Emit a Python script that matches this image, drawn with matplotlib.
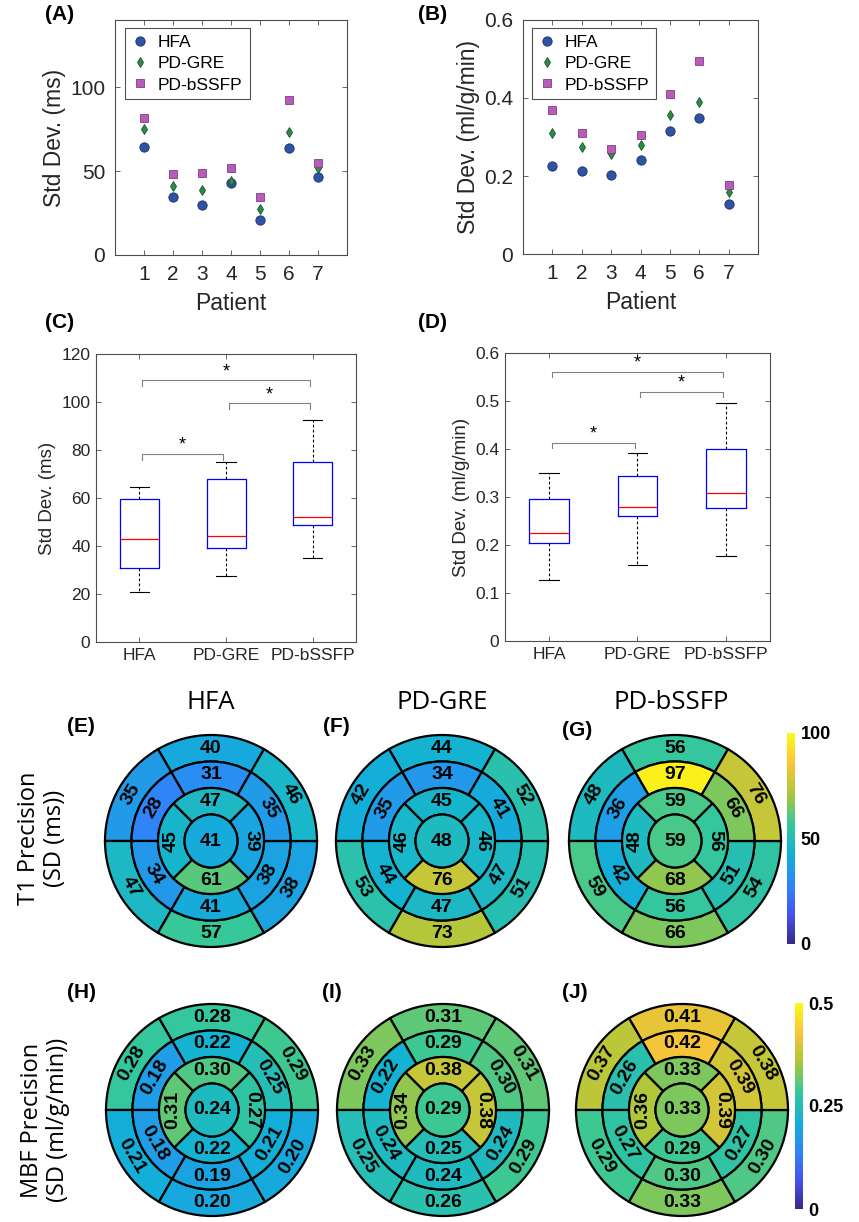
import numpy as np
import matplotlib
matplotlib.use("Agg")
import matplotlib.pyplot as plt
from matplotlib.patches import Wedge, Circle
from matplotlib.colors import LinearSegmentedColormap, Normalize
from matplotlib.cm import ScalarMappable

W, H = 859, 1222
plt.rcParams["font.family"] = ["Liberation Sans", "DejaVu Sans"]

# ---- data ----
methods = ["HFA", "PD-GRE", "PD-bSSFP"]
patients = [1, 2, 3, 4, 5, 6, 7]

# per-patient std dev, T1 (ms)
t1_hfa = [64.4, 34.4, 29.6, 42.9, 20.9, 64.0, 46.7]
t1_gre = [74.8, 41.0, 38.8, 44.0, 27.4, 73.2, 51.7]
t1_bssfp = [81.7, 48.5, 48.9, 51.9, 34.8, 92.4, 54.7]

# per-patient std dev, MBF (ml/g/min)
mbf_hfa = [0.225, 0.214, 0.202, 0.240, 0.315, 0.349, 0.128]
mbf_gre = [0.311, 0.274, 0.256, 0.279, 0.356, 0.391, 0.158]
mbf_bssfp = [0.368, 0.309, 0.269, 0.305, 0.411, 0.495, 0.178]

# significance brackets: (group i, group j, height)
t1_sig = [(0, 1, 78.5), (1, 2, 99.4), (0, 2, 109.2)]
mbf_sig = [(0, 1, 0.413), (1, 2, 0.519), (0, 2, 0.561)]

# bullseye values: basal / mid ring go top, upper-left, lower-left, bottom,
# lower-right, upper-right; apical ring goes top, left, bottom, right
t1_basal = [[40, 35, 47, 57, 38, 46], [44, 42, 53, 73, 51, 52], [56, 48, 59, 66, 54, 76]]
t1_mid = [[31, 28, 34, 41, 38, 35], [34, 35, 44, 47, 47, 41], [97, 36, 42, 56, 51, 66]]
t1_apical = [[47, 45, 61, 39], [45, 46, 76, 46], [59, 48, 68, 56]]
t1_apex = [41, 48, 59]

mbf_basal = [[0.28, 0.28, 0.21, 0.20, 0.20, 0.29], [0.31, 0.33, 0.25, 0.26, 0.29, 0.31],
             [0.41, 0.37, 0.29, 0.33, 0.30, 0.38]]
mbf_mid = [[0.22, 0.18, 0.18, 0.19, 0.21, 0.25], [0.29, 0.22, 0.24, 0.24, 0.24, 0.30],
           [0.42, 0.26, 0.27, 0.30, 0.27, 0.39]]
mbf_apical = [[0.30, 0.31, 0.22, 0.27], [0.38, 0.34, 0.25, 0.38], [0.33, 0.36, 0.29, 0.39]]
mbf_apex = [0.24, 0.29, 0.33]

# parula-like colormap
parula = LinearSegmentedColormap.from_list("parula", [
    (0.2081, 0.1663, 0.5292), (0.2810, 0.3228, 0.9579), (0.1786, 0.5289, 0.9682),
    (0.0689, 0.6948, 0.8394), (0.2161, 0.7843, 0.5923), (0.6720, 0.7793, 0.2227),
    (0.9970, 0.7659, 0.2199), (0.9769, 0.9839, 0.0805)])

fig = plt.figure(figsize=(W / 100, H / 100), dpi=100)


def px_axes(left, top, right, bottom):
    return fig.add_axes([left / W, 1 - bottom / H, (right - left) / W, (bottom - top) / H])


def ftext(x, y, s, **kw):
    fig.text(x / W, 1 - y / H, s, **kw)


def style_axes(ax, fs, pad):
    for sp in ax.spines.values():
        sp.set_color("#4d4d4d")
        sp.set_linewidth(0.8)
    ax.tick_params(direction="in", top=True, right=True, length=3.5, width=0.6,
                   colors="#4d4d4d", labelcolor="#262626", labelsize=fs, pad=pad)


# ---- (A), (B) scatter ----
markers = [("o", 6.7, "#2f52a3", "#1a2e68"), ("d", 5.6, "#2e8a47", "#15562a"),
           ("s", 6.0, "#b85cba", "#84388a")]


def scatter_panel(ax, series, ylim, yticks, ylabel, anchor):
    for vals, name, (m, ms, fc, ec) in zip(series, methods, markers):
        ax.plot(patients, vals, linestyle="none", marker=m, ms=ms, mfc=fc, mec=ec,
                mew=0.6, label=name)
    ax.set_xlim(0, 8)
    ax.set_ylim(*ylim)
    ax.set_xticks(patients)
    ax.set_yticks(yticks)
    ax.set_xlabel("Patient", fontsize=16.5, color="#262626", labelpad=6)
    ax.set_ylabel(ylabel, fontsize=16.5, color="#262626", labelpad=3)
    style_axes(ax, 15, 7)
    leg = ax.legend(loc="upper left", bbox_to_anchor=anchor, fontsize=12.5, frameon=True,
                    fancybox=False, edgecolor="#262626", handlelength=0.9,
                    handletextpad=0.6, borderpad=0.4, labelspacing=0.35, borderaxespad=0)
    leg.get_frame().set_linewidth(0.8)


axA = px_axes(115, 20, 347, 255)
scatter_panel(axA, [t1_hfa, t1_gre, t1_bssfp], (0, 140), [0, 50, 100], "Std Dev. (ms)",
              (0.043, 0.966))
axB = px_axes(523, 20, 758, 254)
scatter_panel(axB, [mbf_hfa, mbf_gre, mbf_bssfp], (0, 0.6), [0, 0.2, 0.4, 0.6],
              "Std Dev. (ml/g/min)", (0.038, 0.966))
axB.set_yticklabels(["0", "0.2", "0.4", "0.6"])


# ---- (C), (D) box plots ----
def prctile(v, p):
    x = np.sort(v)
    pos = (np.arange(1, len(x) + 1) - 0.5) / len(x)
    return float(np.interp(p / 100, pos, x))


def box_panel(ax, series, ylim, yticks, ylabel, sig, star_off, drop):
    stats = []
    for vals, name in zip(series, methods):
        q1, med, q3 = prctile(vals, 25), prctile(vals, 50), prctile(vals, 75)
        iqr = q3 - q1
        v = np.asarray(vals)
        inside = v[(v >= q1 - 1.5 * iqr) & (v <= q3 + 1.5 * iqr)]
        stats.append(dict(med=med, q1=q1, q3=q3, whislo=inside.min(), whishi=inside.max(),
                          fliers=[], label=name))
    ax.bxp(stats, positions=[1, 2, 3], widths=0.45, capwidths=0.22, showfliers=False,
           boxprops=dict(color="#0000ff", lw=0.9),
           medianprops=dict(color="#ff0000", lw=0.9),
           whiskerprops=dict(color="k", lw=0.8, ls=(0, (2.5, 2))),
           capprops=dict(color="k", lw=0.8))
    for i, j, h in sig:
        x1, x2 = i + 1.03, j + 0.97
        ax.plot([x1, x1, x2, x2], [h - drop, h, h, h - drop], color="#808080", lw=0.8)
        ax.text((x1 + x2) / 2, h + star_off, "*", ha="center", va="center", fontsize=13)
    ax.set_xlim(0.5, 3.5)
    ax.set_ylim(*ylim)
    ax.set_yticks(yticks)
    ax.set_ylabel(ylabel, fontsize=13.5, color="#262626", labelpad=4)
    style_axes(ax, 12.5, 4)


axC = px_axes(96, 354, 356, 642)
box_panel(axC, [t1_hfa, t1_gre, t1_bssfp], (0, 120), np.arange(0, 121, 20), "Std Dev. (ms)",
          t1_sig, 3.5, 2.5)
axD = px_axes(505, 353, 770, 641)
box_panel(axD, [mbf_hfa, mbf_gre, mbf_bssfp], (0, 0.6), np.round(np.arange(0, 0.61, 0.1), 1),
          "Std Dev. (ml/g/min)", mbf_sig, 0.018, 0.011)
axD.set_yticklabels(["0", "0.1", "0.2", "0.3", "0.4", "0.5", "0.6"])


# ---- (E)-(J) bullseyes ----
def seg_text(ax, r, a, s):
    rad = np.deg2rad(a)
    rot = a - 90 if np.sin(rad) >= -1e-9 else a + 90
    ax.text(r * np.cos(rad), r * np.sin(rad), s, ha="center", va="center",
            rotation=rot, rotation_mode="anchor", fontsize=14, fontweight="bold")


def bullseye(cx, cy, R, basal, mid, apical, apex, norm, fmt):
    ax = fig.add_axes([(cx - 1.1 * R) / W, 1 - (cy + 1.1 * R) / H, 2.2 * R / W, 2.2 * R / H])
    ax.set_xlim(-1.1, 1.1)
    ax.set_ylim(-1.1, 1.1)
    ax.axis("off")
    kw = dict(ec="k", lw=1.6)
    for r_out, vals in [(1.0, basal), (0.75, mid)]:
        for a, v in zip([90, 150, 210, 270, 330, 30], vals):
            ax.add_patch(Wedge((0, 0), r_out, a - 30, a + 30, width=0.25,
                               fc=parula(norm(v)), **kw))
            seg_text(ax, r_out - 0.125, a, fmt.format(v))
    for a, v in zip([90, 180, 270, 0], apical):
        ax.add_patch(Wedge((0, 0), 0.5, a - 45, a + 45, width=0.25, fc=parula(norm(v)), **kw))
        seg_text(ax, 0.375, a, fmt.format(v))
    ax.add_patch(Circle((0, 0), 0.25, fc=parula(norm(apex)), **kw))
    seg_text(ax, 0, 90, fmt.format(apex))


t1_norm = Normalize(0, 100)
mbf_norm = Normalize(0, 0.5)
R = 106
row1 = [(211, 841), (442, 841), (675, 841)]
row2 = [(212, 1110), (443, 1110), (682, 1110)]
for k in range(3):
    bullseye(*row1[k], R, t1_basal[k], t1_mid[k], t1_apical[k], t1_apex[k], t1_norm, "{:d}")
    bullseye(*row2[k], R, mbf_basal[k], mbf_mid[k], mbf_apical[k], mbf_apex[k], mbf_norm,
             "{:.2f}")


def colorbar(left, top, right, bottom, norm, ticks, labels):
    cax = px_axes(left, top, right, bottom)
    cb = fig.colorbar(ScalarMappable(norm=norm, cmap=parula), cax=cax)
    cb.outline.set_visible(False)
    cb.set_ticks(ticks)
    cb.set_ticklabels(labels)
    cax.tick_params(length=0, pad=4, labelsize=13)
    for t in cax.get_yticklabels():
        t.set_fontweight("bold")


colorbar(787, 733, 795, 944, t1_norm, [0, 50, 100], ["0", "50", "100"])
colorbar(795, 1003, 803, 1209, mbf_norm, [0, 0.25, 0.5], ["0", "0.25", "0.5"])

# titles and labels
title_font = ["Open Sans", "DejaVu Sans"]
for x, name in zip([211, 442, 671], methods):
    ftext(x, 702, name, ha="center", va="center", fontsize=18.5, family=title_font)
ftext(42, 838, "T1 Precision\n(SD (ms))", ha="center", va="center", rotation=90,
      multialignment="center", fontsize=17, family=title_font, linespacing=1.15)
ftext(45, 1120, "MBF Precision\n(SD (ml/g/min))", ha="center", va="center", rotation=90,
      multialignment="center", fontsize=17, family=title_font, linespacing=1.15)

panel_labels = [("(A)", 45, 15), ("(B)", 418, 15), ("(C)", 45, 322), ("(D)", 418, 322),
                ("(E)", 67, 727), ("(F)", 323, 727), ("(G)", 562, 730),
                ("(H)", 67, 993), ("(I)", 322, 993), ("(J)", 562, 993)]
for s, x, y in panel_labels:
    ftext(x, y, s, ha="left", va="center", fontsize=15, fontweight="bold")

fig.savefig("out.png", dpi=100)
